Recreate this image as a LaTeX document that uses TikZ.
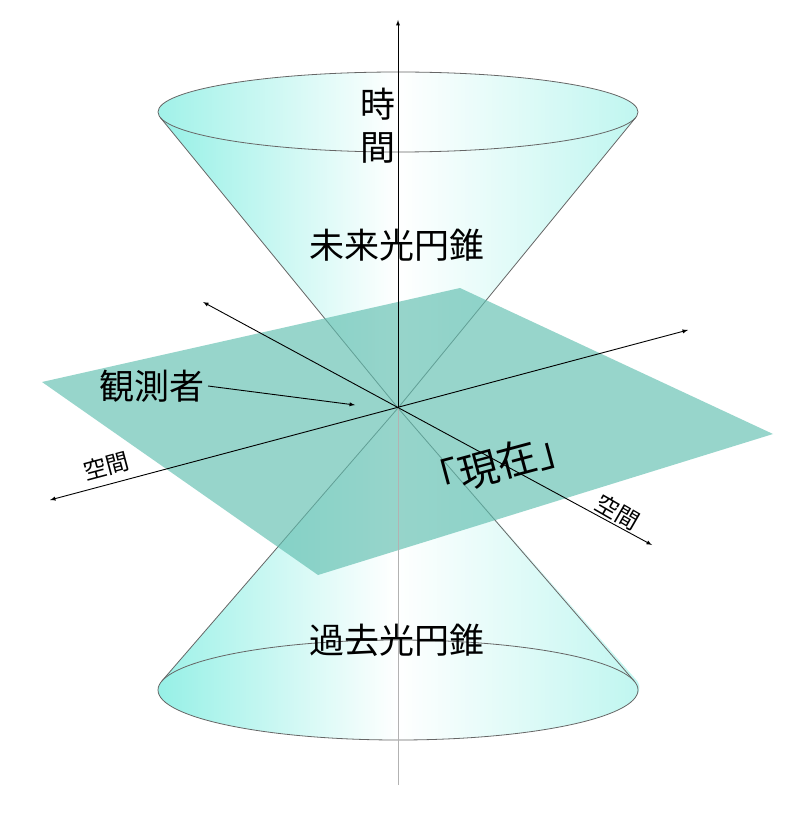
\documentclass[tikz,border=0pt]{standalone}
\usepackage{fontspec}
\setmainfont{Noto Sans CJK JP}
\usetikzlibrary{calc}
\definecolor{conecol}{RGB}{150,240,230}
\definecolor{planecol}{RGB}{95,190,175}
\tikzset{
  axis/.style={black,line width=0.9pt,-latex},
  rim/.style={gray!80!black,line width=0.8pt},
  conefill/.style={left color=conecol,right color=conecol!60,middle color=white,shading angle=90},
  big/.style={font=\fontsize{35}{37}\selectfont},
  small/.style={font=\fontsize{23}{24}\selectfont}
}
\begin{document}
\begin{tikzpicture}[x=1pt,y=-1pt]
	\useasboundingbox (0,0) rectangle (800,818);
	\coordinate (apex) at (398,408);
	% past cone
	\coordinate (pl) at (161.8,681.1);
	\coordinate (pr) at (634.2,681.1);
	\shade[conefill] (apex) -- (pl) arc[start angle=187.8,end angle=-7.8,x radius=240,y radius=50] -- cycle;
	\shade[conefill] (398,690) ellipse [x radius=240, y radius=50];
	\draw[rim] (398,690) ellipse [x radius=240, y radius=50];
	\draw[rim] (apex) -- (pl);
	\draw[rim] (apex) -- (pr);
	% future cone
	\coordinate (fl) at (160.2,117.4);
	\coordinate (fr) at (635.8,117.4);
	\shade[conefill] (apex) -- (fl) arc[start angle=172.2,end angle=7.8,x radius=240,y radius=40] -- cycle;
	\shade[left color=conecol!90,right color=conecol!60,middle color=white,shading angle=90] (398,112) ellipse [x radius=240, y radius=40];
	\draw[rim] (398,112) ellipse [x radius=240, y radius=40];
	\draw[rim] (apex) -- (fl);
	\draw[rim] (apex) -- (fr);
	% plane
	\fill[planecol,opacity=0.65] (42,382) -- (460,288) -- (773,434) -- (318,575) -- cycle;
	% axes
	\coordinate (tbot) at (398,785);
	\coordinate (ttop) at (398,20);
	\draw[rim,gray!60] (tbot) -- (apex);
	\draw[axis] (apex) -- (ttop);
	\coordinate (xa) at (50,500);
	\coordinate (xb) at (688,330);
	\coordinate (ya) at (203,302);
	\coordinate (yb) at (652,545);
	\draw[axis,latex-latex] (xa) -- (xb);
	\draw[axis,latex-latex] (ya) -- (yb);
	% labels
	\node[big] (t1) at (378,104) {時};
	\node[big] (t2) at (378,148) {間};
	\node[big] (fut) at (397,245) {未来光円錐};
	\node[big] (past) at (397,640) {過去光円錐};
	\node[big] (obs) at (152,386) {観測者};
	\draw[axis] (obs.east) -- (355,405);
	\node[small,rotate=15] (sp1) at (106,466) {空間};
	\node[small,rotate=-30] (sp2) at (618,512) {空間};
	\node[big,rotate=15,font=\fontsize{40}{42}\selectfont] (now) at (498,464) {「現在」};
\end{tikzpicture}
\end{document}
